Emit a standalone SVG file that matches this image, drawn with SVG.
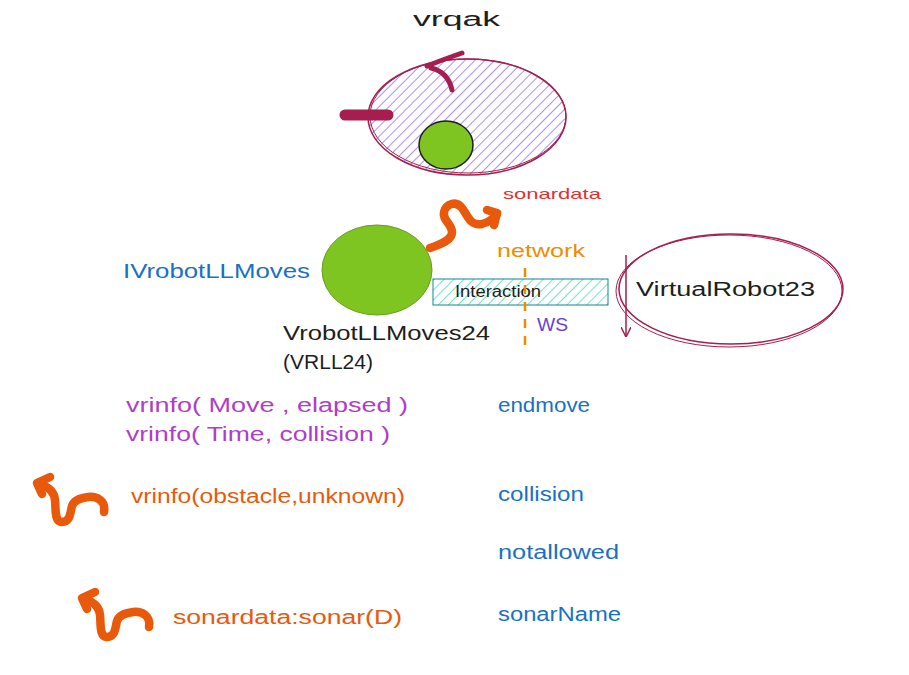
<svg xmlns="http://www.w3.org/2000/svg" width="909" height="675" viewBox="0 0 909 675">
<defs>
<pattern id="hatchP" patternUnits="userSpaceOnUse" width="7" height="7" patternTransform="rotate(45)">
<rect width="7" height="7" fill="#ffffff"/>
<line x1="0" y1="0" x2="0" y2="7" stroke="#9775fa" stroke-width="1.6"/>
</pattern>
<pattern id="hatchT" patternUnits="userSpaceOnUse" width="7" height="7" patternTransform="rotate(45)">
<rect width="7" height="7" fill="#ffffff"/>
<line x1="0" y1="0" x2="0" y2="7" stroke="#38d9a9" stroke-width="1.4"/>
</pattern>
<marker id="arrowDown" viewBox="0 0 10 10" refX="9" refY="5" markerWidth="10" markerHeight="10" orient="auto" markerUnits="userSpaceOnUse">
<path d="M0,0 L10,5 L0,10" fill="none" stroke="#a61e4d" stroke-width="1.5"/>
</marker>
</defs>
<style>
text{font-family:"Liberation Sans","DejaVu Sans",sans-serif;}
.hand{font-size:20px;}
.blue{fill:#1971c2;}
.purple{fill:#ae3ec9;}
.orange{fill:#e8590c;}
.squig{fill:none;stroke:#e8590c;stroke-width:8.5;stroke-linecap:round;stroke-linejoin:round;}
</style>
<rect width="909" height="675" fill="#ffffff"/>

<g id="vrqak">
<text x="413" y="26" class="hand" font-size="24" textLength="87" lengthAdjust="spacingAndGlyphs" fill="#1e1e1e">vrqak</text>
<ellipse cx="467" cy="117" rx="99" ry="58" fill="url(#hatchP)" stroke="#a61e4d" stroke-width="1.5"/>
<ellipse cx="468" cy="116" rx="98" ry="57" fill="none" stroke="#a61e4d" stroke-width="1"/>
<ellipse cx="446" cy="145" rx="27" ry="24" fill="#7ec521" stroke="#1e1e1e" stroke-width="1.5"/>
<line x1="345" y1="115" x2="388" y2="115" stroke="#a61e4d" stroke-width="11" stroke-linecap="round"/>
<path d="M427,66 Q442,60 462,53" fill="none" stroke="#a61e4d" stroke-width="5" stroke-linecap="round"/>
<path d="M431,68 Q448,72 452,90" fill="none" stroke="#a61e4d" stroke-width="5" stroke-linecap="round"/>
</g>

<g id="sonardata-top">
<text x="503" y="199" font-size="15" textLength="98" lengthAdjust="spacingAndGlyphs" fill="#e03131">sonardata</text>
</g>

<g id="VRLL24">
<ellipse cx="377" cy="270" rx="55" ry="45" fill="#7ec521" stroke="#6c9a22" stroke-width="1"/>
<text x="123" y="278" class="hand blue" textLength="187" lengthAdjust="spacingAndGlyphs">IVrobotLLMoves</text>
<text x="283" y="340" class="hand" textLength="207" lengthAdjust="spacingAndGlyphs" fill="#1e1e1e">VrobotLLMoves24</text>
<text x="283" y="369" class="hand" textLength="90" lengthAdjust="spacingAndGlyphs" fill="#1e1e1e">(VRLL24)</text>
</g>

<g id="Interaction">
<rect x="433" y="279" width="175" height="26" fill="url(#hatchT)" stroke="#0c8599" stroke-width="1"/>
<text x="455" y="297" font-size="16" textLength="86" lengthAdjust="spacingAndGlyphs" fill="#1e1e1e">Interaction</text>
</g>

<g id="network">
<text x="497" y="257" font-size="18" textLength="88" lengthAdjust="spacingAndGlyphs" fill="#f08c00">network</text>
<text x="537" y="331" font-size="18" textLength="31" lengthAdjust="spacingAndGlyphs" fill="#6741d9">WS</text>
</g>

<g id="VirtualRobot23">
<ellipse cx="731" cy="289" rx="112" ry="55" fill="none" stroke="#a61e4d" stroke-width="1.5"/>
<ellipse cx="729" cy="291" rx="113" ry="56" fill="none" stroke="#a61e4d" stroke-width="1"/>
<text x="636" y="296" class="hand" textLength="179" lengthAdjust="spacingAndGlyphs" fill="#1e1e1e">VirtualRobot23</text>
</g>

<g id="messages">
<text x="126" y="412" class="hand purple" textLength="282" lengthAdjust="spacingAndGlyphs">vrinfo( Move , elapsed )</text>
<text x="126" y="441" class="hand purple" textLength="264" lengthAdjust="spacingAndGlyphs">vrinfo( Time, collision )</text>
<text x="131" y="503" class="hand orange" textLength="274" lengthAdjust="spacingAndGlyphs">vrinfo(obstacle,unknown)</text>
<text x="173" y="624" class="hand orange" textLength="229" lengthAdjust="spacingAndGlyphs">sonardata:sonar(D)</text>
<text x="498" y="412" class="hand blue" textLength="92" lengthAdjust="spacingAndGlyphs">endmove</text>
<text x="498" y="501" class="hand blue" textLength="86" lengthAdjust="spacingAndGlyphs">collision</text>
<text x="498" y="559" class="hand blue" textLength="121" lengthAdjust="spacingAndGlyphs">notallowed</text>
<text x="498" y="621" class="hand blue" textLength="123" lengthAdjust="spacingAndGlyphs">sonarName</text>
</g>

<g id="connectors">
<line x1="525" y1="268" x2="525" y2="346" stroke="#f08c00" stroke-width="2.5" stroke-dasharray="9,8"/>
<line x1="626" y1="255" x2="626" y2="336" stroke="#a61e4d" stroke-width="1.5" marker-end="url(#arrowDown)"/>
<path class="squig" d="M430,248 C442,244 452,240 452,232 C452,224 442,220 444,212 C446,204 456,200 462,208 C468,216 470,226 482,224 C490,222 494,218 497,214"/>
<path class="squig" d="M487,210 L497,213 L494,225"/>
<g id="squiggle1">
<path class="squig" d="M104,512 C106,500 96,496 88,497 C80,498 74,500 72,506 C70,514 70,522 62,522 C54,522 56,508 55,500 C54,492 50,488 40,484"/>
<path class="squig" d="M50,477 L37,483 L42,494"/>
</g>
<g id="squiggle2" transform="translate(45,115)">
<path class="squig" d="M104,512 C106,500 96,496 88,497 C80,498 74,500 72,506 C70,514 70,522 62,522 C54,522 56,508 55,500 C54,492 50,488 40,484"/>
<path class="squig" d="M50,477 L37,483 L42,494"/>
</g>
</g>
</svg>
